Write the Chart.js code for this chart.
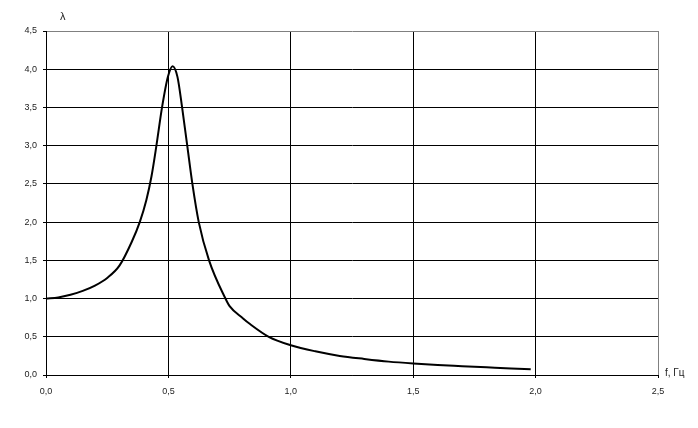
<!DOCTYPE html>
<html>
<head>
<meta charset="utf-8">
<script src="https://cdn.jsdelivr.net/npm/chart.js@4.4.0/dist/chart.umd.min.js"></script>
<style>
html,body{margin:0;padding:0;background:#fff;}
#wrap{position:relative;width:698px;height:428px;}
canvas{display:block;}
</style>
</head>
<body>
<div id="wrap"><canvas id="c" width="698" height="428"></canvas></div>
<script>
const freq   = [0.0, 0.05, 0.1, 0.15, 0.2, 0.25, 0.3, 0.35, 0.383, 0.41, 0.431, 0.451, 0.474, 0.498, 0.517, 0.537, 0.556, 0.577, 0.598, 0.624, 0.666, 0.733, 0.75, 0.805, 0.832, 0.91, 1.0, 1.1, 1.2, 1.3, 1.4, 1.5, 1.6, 1.7, 1.8, 1.9, 1.98];
const lambda = [1.00, 1.015, 1.05, 1.10, 1.17, 1.27, 1.43, 1.74, 2.00, 2.29, 2.60, 3.00, 3.50, 3.90, 4.04, 3.90, 3.50, 3.00, 2.50, 2.00, 1.50, 1.00, 0.90, 0.74, 0.67, 0.50, 0.39, 0.31, 0.25, 0.21, 0.175, 0.15, 0.13, 0.115, 0.10, 0.085, 0.075];
const xTickLabels = ['0,0','0,5','1,0','1,5','2,0','2,5'];
const yTickLabels = ['0,0','0,5','1,0','1,5','2,0','2,5','3,0','3,5','4,0','4,5'];
const yAxisLabel = 'λ';
const xAxisLabel = 'f, Гц';

const points = freq.map((f, i) => ({x: f, y: lambda[i]}));
const tickFont = {family: "'Liberation Sans', Arial, sans-serif", size: 9};

const labelsPlugin = {
  id: 'axisLabels',
  afterDraw(chart) {
    const ctx = chart.ctx;
    const ca = chart.chartArea;
    ctx.save();
    ctx.fillStyle = '#222';
    ctx.font = "11px 'Liberation Sans', Arial, sans-serif";
    ctx.textAlign = 'left';
    ctx.textBaseline = 'middle';
    ctx.fillText(yAxisLabel, ca.left + 14, ca.top - 14);
    ctx.font = "10px 'Liberation Sans', Arial, sans-serif";
    ctx.fillText(xAxisLabel, ca.right + 7, ca.bottom - 2);
    ctx.restore();
  }
};

new Chart(document.getElementById('c'), {
  type: 'line',
  data: {
    datasets: [{
      data: points,
      borderColor: '#000',
      borderWidth: 2,
      pointRadius: 0,
      fill: false,
      cubicInterpolationMode: 'monotone'
    }]
  },
  options: {
    responsive: false,
    animation: false,
    layout: {padding: {top: 31, right: 40, left: 0, bottom: 0}},
    plugins: {legend: {display: false}, tooltip: {enabled: false}},
    scales: {
      x: {
        type: 'linear',
        min: 0, max: 2.5,
        afterFit(s) { s.height = 53; },
        ticks: {
          stepSize: 0.5,
          font: tickFont,
          color: '#222',
          padding: 8,
          maxRotation: 0,
          callback: (v, i) => xTickLabels[i]
        },
        grid: {
          color: (c) => (c.tick && c.tick.value === 2.5) ? '#808080' : '#000',
          tickColor: '#000',
          tickLength: 3,
          lineWidth: 1
        },
        border: {color: '#000', width: 1}
      },
      y: {
        type: 'linear',
        min: 0, max: 4.5,
        afterFit(s) { s.width = 46; },
        ticks: {
          stepSize: 0.5,
          font: tickFont,
          color: '#222',
          padding: 6,
          callback: (v, i) => yTickLabels[i]
        },
        grid: {
          color: (c) => (c.tick && c.tick.value === 4.5) ? '#808080' : '#000',
          tickColor: '#000',
          tickLength: 3,
          lineWidth: 1
        },
        border: {color: '#000', width: 1}
      }
    }
  },
  plugins: [labelsPlugin]
});
</script>
</body>
</html>
